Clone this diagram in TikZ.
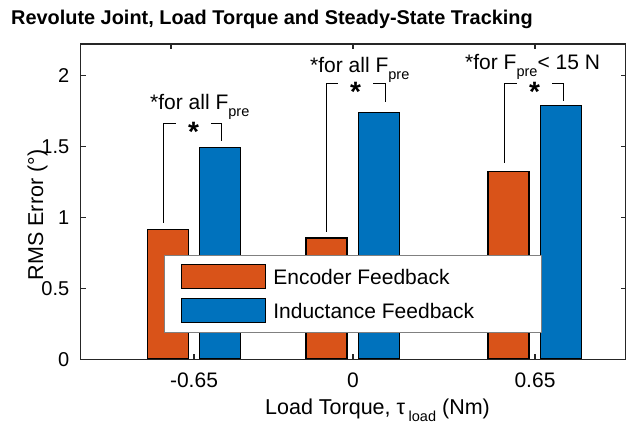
\documentclass[tikz,border=0pt]{standalone}
\usepackage{fontspec}
\setmainfont{Liberation Sans}
\usetikzlibrary{positioning}
\definecolor{encclr}{RGB}{217,83,25}
\definecolor{indclr}{RGB}{0,114,189}
\definecolor{axisgray}{RGB}{38,38,38}
\newcommand{\lsub}[1]{\raisebox{-0.32em}{\fontsize{14.5}{14.5}\selectfont #1}}

\begin{document}
\begin{tikzpicture}[x=1pt, y=-1pt,
    bar/.style={draw=black, line width=1.3pt, minimum width=41pt, anchor=south, inner sep=0},
    lbl/.style={font=\fontsize{21}{24}\selectfont, inner sep=0},
    note/.style={font=\fontsize{21}{24}\selectfont, inner sep=0, anchor=base west},
    sig/.style={font=\bfseries\fontsize{28}{28}\selectfont, inner sep=0, minimum width=35pt, text height=0pt, text depth=0pt},
    patch/.style={draw=black, line width=1.3pt, minimum width=84pt, minimum height=24pt, inner sep=0},
    brk/.style={line width=0.8pt},
    axisline/.style={draw=axisgray, line width=1.2pt}]

\useasboundingbox (0,0) rectangle (635,430);

\node (title) at (11,25) [anchor=base west, inner sep=0, font=\bfseries\fontsize{19.9}{22}\selectfont] {Revolute Joint, Load Torque and Steady-State Tracking};

% bars
\node (enc1) at (168,359.5) [bar, fill=encclr, minimum height=0.91*142pt] {};
\node (ind1) at (220,359.5) [bar, fill=indclr, minimum height=1.49*142pt] {};
\node (enc2) at (326.5,359.5) [bar, fill=encclr, minimum height=0.85*142pt] {};
\node (ind2) at (379,359.5) [bar, fill=indclr, minimum height=1.735*142pt] {};
\node (enc3) at (508.5,359.5) [bar, fill=encclr, minimum height=1.32*142pt] {};
\node (ind3) at (561,359.5) [bar, fill=indclr, minimum height=1.785*142pt] {};

% significance brackets
\coordinate (l1) at (163.3,223);
\coordinate (r1) at (221.7,141);
\node (s1) at (193.5,123.3) [sig] {\raisebox{-0.64em}{*}};
\draw[brk] (l1) |- (s1.west);
\draw[brk] (s1.east) -| (r1);

\coordinate (l2) at (326.7,232);
\coordinate (r2) at (385,102);
\node (s2) at (355.5,83.3) [sig] {\raisebox{-0.64em}{*}};
\draw[brk] (l2) |- (s2.west);
\draw[brk] (s2.east) -| (r2);

\coordinate (l3) at (504.3,163);
\coordinate (r3) at (563.3,101);
\node (s3) at (534.5,83.3) [sig] {\raisebox{-0.64em}{*}};
\draw[brk] (l3) |- (s3.west);
\draw[brk] (s3.east) -| (r3);

\node (n1) at (150,110) [note] {*for all F\lsub{pre}};
\node (n2) at (310,73) [note] {*for all F\lsub{pre}};
\node (n3) at (465,70) [note] {*for F\lsub{pre}< 15 N};

% legend
\node (legbox) at (352.5,293.5) [draw=gray, line width=0.8pt, fill=white, minimum width=377pt, minimum height=77pt] {};
\node (encpatch) at (223.5,276.8) [patch, fill=encclr] {};
\node (indpatch) at (223.5,310.8) [patch, fill=indclr] {};
\node (enctext) [lbl, right=7pt of encpatch] {Encoder Feedback};
\node (indtext) [lbl, right=7pt of indpatch] {Inductance Feedback};

% axes
\draw[axisline] (80.5,44) rectangle (625.5,359.5);
\foreach \v [count=\i] in {0,0.5,1,1.5,2} {
  \draw[axisline] (80.5,{359.5-\v*142}) -- ++(5,0);
  \draw[axisline] (625.5,{359.5-\v*142}) -- ++(-5,0);
  \node (ytick\i) at (69.5,{359.5-\v*142}) [lbl, anchor=east, font=\fontsize{20}{24}\selectfont] {\v};
}
\foreach \x in {171,353,535} {
  \draw[axisline] (\x,44) -- ++(0,5);
}
\foreach \x in {194,353,535} {
  \draw[axisline] (\x,359.5) -- ++(0,-5);
}
\node (xtick1) at (194,380) [lbl] {-0.65};
\node (xtick2) at (353,380) [lbl] {0};
\node (xtick3) at (535,380) [lbl] {0.65};

\node (xlabel) at (377.5,410) [lbl, font=\fontsize{21.5}{24}\selectfont] {Load Torque, τ\,\lsub{load} (Nm)};
\node (ylabel) at (37.5,215) [lbl, rotate=90, font=\fontsize{21.5}{24}\selectfont] {RMS Error (°)};
\end{tikzpicture}
\end{document}
